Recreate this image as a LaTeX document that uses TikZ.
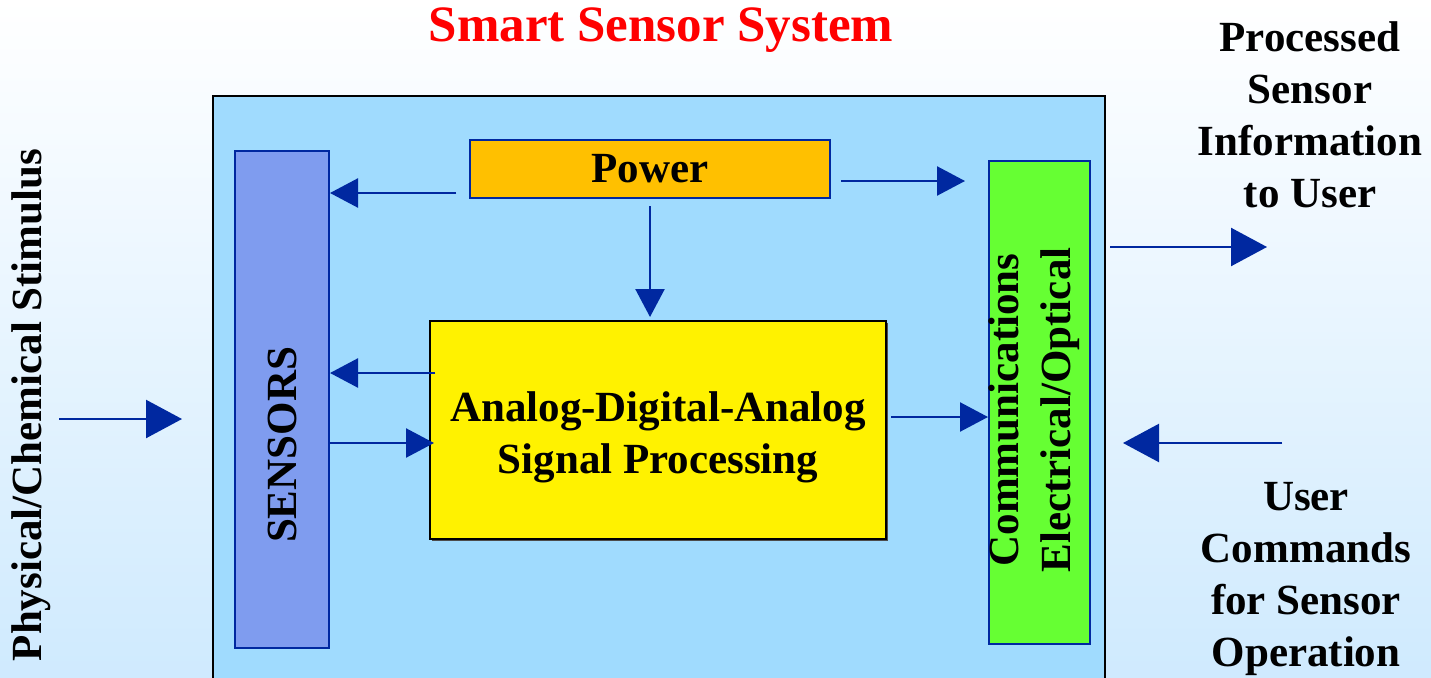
\documentclass[tikz,border=0pt]{standalone}
\usepackage{fontspec}
\setmainfont{Liberation Serif}
\usepackage{xcolor}
\usetikzlibrary{arrows.meta,shadows}
\definecolor{sysblue}{HTML}{A0DBFE}
\definecolor{sensblue}{HTML}{7F9CEF}
\definecolor{pwrorange}{HTML}{FFC000}
\definecolor{commgreen}{HTML}{66FF33}
\definecolor{arrblue}{HTML}{0028A0}
\definecolor{bgblue}{HTML}{CFEAFE}

\begin{document}
\begin{tikzpicture}[x=1pt, y=-1pt, every node/.style={font=\fontsize{43}{52}\selectfont\bfseries, inner sep=0pt, align=center}, blk/.style={draw=arrblue, line width=2pt}, arr/.style={-{Triangle[length=28pt,width=29pt]}, line width=2.4pt, draw=arrblue, fill=arrblue}, bigarr/.style={arr, -{Triangle[length=36pt,width=38pt]}}]
\useasboundingbox (0,0) rectangle (1431,677);
\clip (0,0) rectangle (1431,677);
\shade[top color=white, bottom color=bgblue] (0,0) rectangle (1431,677);
% boxes
\node[draw=black, line width=2pt, fill=sysblue, minimum width=892pt, minimum height=604pt] (system) at (659,398) {};
\node[blk, fill=sensblue, minimum width=94pt, minimum height=497pt] (sensors) at (282,399.5) {};
\node[rotate=90] (sensorstxt) at (282,445) {SENSORS};
\node[blk, fill=pwrorange, minimum width=360pt, minimum height=58pt] (power) at (650,169) {Power};
\node[draw=black, line width=2pt, fill=yellow, drop shadow={shadow xshift=2pt, shadow yshift=-2pt, fill=black!70, opacity=1}, minimum width=456pt, minimum height=218pt, text height=96pt] (ada) at (658,430) {Analog-Digital-Analog\\Signal Processing};
\node[blk, fill=commgreen, minimum width=101pt, minimum height=483pt] (comm) at (1039.5,402.5) {};
\node[rotate=90] (commtxt) at (1034,410) {Communications\\Electrical/Optical};
% outside texts
\node[text=red, font=\fontsize{51}{60}\selectfont\bfseries] (title) at (661,30) {Smart Sensor System};
\node (outtxt) at (1310,115) {Processed\\Sensor\\Information\\to User};
\node (usertxt) at (1306,579) {User\\Commands\\for Sensor\\Operation};
\node[rotate=90] (stim) at (31,405) {Physical/Chemical Stimulus};
\coordinate (stimbeg) at (59,419);
\coordinate (outend) at (1267,247);
\coordinate (inbeg) at (1282,443);
% arrows
\draw[arr, shorten <=13pt] (power.west |- 0,193) -- (sensors.east |- 0,193);
\draw[arr, shorten <=10pt, shorten >=23pt] (power.east |- 0,181) -- (comm.west |- 0,181);
\draw[arr, shorten <=7pt, shorten >=3pt] (power.south) -- (ada.north -| power.south);
\draw[arr, shorten <=-6pt] (ada.west |- 0,373) -- (sensors.east |- 0,373);
\draw[arr, shorten >=-5pt] (sensors.east |- 0,443) -- (ada.west |- 0,443);
\draw[arr, shorten <=4pt] (ada.east |- 0,417) -- (comm.west |- 0,417);
\draw[bigarr, shorten >=30pt] (stimbeg) -- (system.west |- stimbeg);
\draw[bigarr, shorten <=4pt] (system.east |- outend) -- (outend);
\draw[bigarr, shorten >=17pt] (inbeg) -- (system.east |- inbeg);
\end{tikzpicture}
\end{document}
